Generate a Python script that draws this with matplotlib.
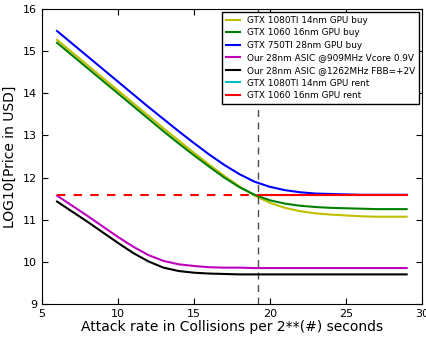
import numpy as np
import matplotlib
matplotlib.use("Agg")
import matplotlib.pyplot as plt

rate = list(range(6, 30))

gtx1080_buy = [15.27, 14.97, 14.67, 14.37, 14.07, 13.77, 13.47, 13.17, 12.88, 12.59,
               12.31, 12.04, 11.79, 11.57, 11.40, 11.28, 11.20, 11.15, 11.12, 11.10,
               11.08, 11.07, 11.07, 11.07]
gtx1060_buy = [15.20, 14.90, 14.60, 14.30, 14.00, 13.70, 13.40, 13.10, 12.81, 12.53,
               12.26, 12.00, 11.77, 11.59, 11.46, 11.38, 11.33, 11.30, 11.28, 11.27,
               11.26, 11.25, 11.25, 11.25]
gtx750_buy = [15.48, 15.18, 14.88, 14.58, 14.28, 13.98, 13.68, 13.39, 13.10, 12.82,
              12.55, 12.30, 12.08, 11.90, 11.78, 11.70, 11.65, 11.62, 11.61, 11.60,
              11.59, 11.59, 11.59, 11.59]
asic_909 = [11.57, 11.33, 11.09, 10.84, 10.59, 10.36, 10.16, 10.02, 9.94, 9.90,
            9.87, 9.86, 9.86, 9.85, 9.85, 9.85, 9.85, 9.85, 9.85, 9.85,
            9.85, 9.85, 9.85, 9.85]
asic_1262 = [11.43, 11.19, 10.95, 10.70, 10.45, 10.21, 10.01, 9.86, 9.78, 9.74,
             9.72, 9.71, 9.70, 9.70, 9.70, 9.70, 9.70, 9.70, 9.70, 9.70,
             9.70, 9.70, 9.70, 9.70]
gtx1080_rent = 11.58
gtx1060_rent = 11.58
crossover = 19.25

fig = plt.figure(figsize=(4.27, 3.38), dpi=100)
ax = fig.add_axes([0.098, 0.101, 0.890, 0.872])

ax.plot(rate, gtx1080_buy, color="y", lw=1.5, label="GTX 1080TI 14nm GPU buy")
ax.plot(rate, gtx1060_buy, color="g", lw=1.5, label="GTX 1060 16nm GPU buy")
ax.plot(rate, gtx750_buy, color="b", lw=1.5, label="GTX 750TI 28nm GPU buy")
ax.plot(rate, asic_909, color="m", lw=1.5, label="Our 28nm ASIC @909MHz Vcore 0.9V")
ax.plot(rate, asic_1262, color="k", lw=1.5, label="Our 28nm ASIC @1262MHz FBB=+2V")

# renting is dashed until it beats buying, solid after
ax.plot([rate[0], crossover], [gtx1080_rent, gtx1080_rent], color="c", lw=1.5,
        dashes=(4, 4), alpha=0.5)
ax.plot([rate[0], crossover], [gtx1060_rent, gtx1060_rent], color="r", lw=1.5,
        dashes=(4, 4))
ax.plot([crossover, rate[-1]], [gtx1080_rent, gtx1080_rent], color="c", lw=1.5,
        label="GTX 1080TI 14nm GPU rent")
ax.plot([crossover, rate[-1]], [gtx1060_rent, gtx1060_rent], color="r", lw=1.5,
        label="GTX 1060 16nm GPU rent")

ax.axvline(crossover, color="k", lw=1, alpha=0.7, dashes=(5, 4))

ax.set_xlim(5, 30)
ax.set_ylim(9, 16)
ax.set_xticks([5, 10, 15, 20, 25, 30])
ax.tick_params(direction="in", top=True, right=True, labelsize=8, length=4)
ax.set_xlabel("Attack rate in Collisions per 2**(#) seconds", fontsize=10, labelpad=1)
ax.set_ylabel("LOG10[Price in USD]", fontsize=10, labelpad=4)

leg = ax.legend(loc="upper right", fontsize=6.4, handlelength=1.6, labelspacing=0.4,
                borderaxespad=0.35, fancybox=False, framealpha=1)
leg.get_frame().set_edgecolor("k")

fig.savefig("out.png", dpi=100)
